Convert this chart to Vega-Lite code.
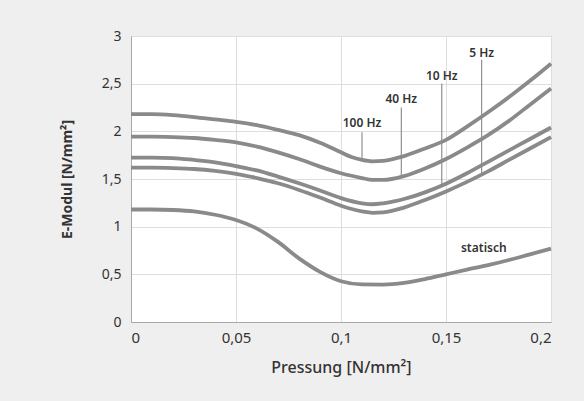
{
  "$schema": "https://vega.github.io/schema/vega-lite/v6.json",
  "width": 420,
  "height": 286,
  "autosize": {"type": "none"},
  "padding": {"left": 131, "top": 36, "right": 33, "bottom": 79},
  "background": "#efefef",
  "config": {
    "view": {"fill": "white", "stroke": "#b5b5b5", "strokeWidth": 1},
    "font": "Noto Sans",
    "axis": {
      "grid": true,
      "gridColor": "#dedede",
      "gridWidth": 1,
      "domainColor": "#a8a8a8",
      "ticks": false,
      "labelColor": "#333333",
      "titleColor": "#333333",
      "labelFont": "Noto Sans",
      "titleFont": "Noto Sans"
    }
  },
  "datasets": {
    "curves": [
      {"series": "100 Hz", "p": 0, "e": 2.18},
      {"series": "100 Hz", "p": 0.01, "e": 2.18},
      {"series": "100 Hz", "p": 0.02, "e": 2.17},
      {"series": "100 Hz", "p": 0.03, "e": 2.15},
      {"series": "100 Hz", "p": 0.04, "e": 2.125},
      {"series": "100 Hz", "p": 0.05, "e": 2.1},
      {"series": "100 Hz", "p": 0.06, "e": 2.065},
      {"series": "100 Hz", "p": 0.07, "e": 2.015},
      {"series": "100 Hz", "p": 0.08, "e": 1.96},
      {"series": "100 Hz", "p": 0.09, "e": 1.88},
      {"series": "100 Hz", "p": 0.1, "e": 1.78},
      {"series": "100 Hz", "p": 0.105, "e": 1.73},
      {"series": "100 Hz", "p": 0.11, "e": 1.7},
      {"series": "100 Hz", "p": 0.115, "e": 1.685},
      {"series": "100 Hz", "p": 0.12, "e": 1.69},
      {"series": "100 Hz", "p": 0.13, "e": 1.74},
      {"series": "100 Hz", "p": 0.14, "e": 1.82},
      {"series": "100 Hz", "p": 0.15, "e": 1.91},
      {"series": "100 Hz", "p": 0.16, "e": 2.05},
      {"series": "100 Hz", "p": 0.17, "e": 2.2},
      {"series": "100 Hz", "p": 0.18, "e": 2.36},
      {"series": "100 Hz", "p": 0.19, "e": 2.53},
      {"series": "100 Hz", "p": 0.2, "e": 2.71},
      {"series": "40 Hz", "p": 0, "e": 1.945},
      {"series": "40 Hz", "p": 0.01, "e": 1.945},
      {"series": "40 Hz", "p": 0.02, "e": 1.94},
      {"series": "40 Hz", "p": 0.03, "e": 1.93},
      {"series": "40 Hz", "p": 0.04, "e": 1.91},
      {"series": "40 Hz", "p": 0.05, "e": 1.885},
      {"series": "40 Hz", "p": 0.06, "e": 1.84},
      {"series": "40 Hz", "p": 0.07, "e": 1.78},
      {"series": "40 Hz", "p": 0.08, "e": 1.71},
      {"series": "40 Hz", "p": 0.09, "e": 1.63},
      {"series": "40 Hz", "p": 0.1, "e": 1.56},
      {"series": "40 Hz", "p": 0.11, "e": 1.51},
      {"series": "40 Hz", "p": 0.115, "e": 1.49},
      {"series": "40 Hz", "p": 0.12, "e": 1.49},
      {"series": "40 Hz", "p": 0.13, "e": 1.53},
      {"series": "40 Hz", "p": 0.14, "e": 1.61},
      {"series": "40 Hz", "p": 0.15, "e": 1.71},
      {"series": "40 Hz", "p": 0.16, "e": 1.83},
      {"series": "40 Hz", "p": 0.17, "e": 1.96},
      {"series": "40 Hz", "p": 0.18, "e": 2.11},
      {"series": "40 Hz", "p": 0.19, "e": 2.28},
      {"series": "40 Hz", "p": 0.2, "e": 2.45},
      {"series": "10 Hz", "p": 0, "e": 1.725},
      {"series": "10 Hz", "p": 0.01, "e": 1.725},
      {"series": "10 Hz", "p": 0.02, "e": 1.72},
      {"series": "10 Hz", "p": 0.03, "e": 1.7},
      {"series": "10 Hz", "p": 0.04, "e": 1.675},
      {"series": "10 Hz", "p": 0.05, "e": 1.635},
      {"series": "10 Hz", "p": 0.06, "e": 1.59},
      {"series": "10 Hz", "p": 0.07, "e": 1.525},
      {"series": "10 Hz", "p": 0.08, "e": 1.455},
      {"series": "10 Hz", "p": 0.09, "e": 1.38},
      {"series": "10 Hz", "p": 0.1, "e": 1.3},
      {"series": "10 Hz", "p": 0.11, "e": 1.245},
      {"series": "10 Hz", "p": 0.115, "e": 1.235},
      {"series": "10 Hz", "p": 0.12, "e": 1.245},
      {"series": "10 Hz", "p": 0.13, "e": 1.29},
      {"series": "10 Hz", "p": 0.14, "e": 1.36},
      {"series": "10 Hz", "p": 0.15, "e": 1.45},
      {"series": "10 Hz", "p": 0.16, "e": 1.56},
      {"series": "10 Hz", "p": 0.17, "e": 1.68},
      {"series": "10 Hz", "p": 0.18, "e": 1.8},
      {"series": "10 Hz", "p": 0.19, "e": 1.92},
      {"series": "10 Hz", "p": 0.2, "e": 2.04},
      {"series": "5 Hz", "p": 0, "e": 1.62},
      {"series": "5 Hz", "p": 0.01, "e": 1.62},
      {"series": "5 Hz", "p": 0.02, "e": 1.615},
      {"series": "5 Hz", "p": 0.03, "e": 1.605},
      {"series": "5 Hz", "p": 0.04, "e": 1.585},
      {"series": "5 Hz", "p": 0.05, "e": 1.555},
      {"series": "5 Hz", "p": 0.06, "e": 1.51},
      {"series": "5 Hz", "p": 0.07, "e": 1.455},
      {"series": "5 Hz", "p": 0.08, "e": 1.385},
      {"series": "5 Hz", "p": 0.09, "e": 1.305},
      {"series": "5 Hz", "p": 0.1, "e": 1.22},
      {"series": "5 Hz", "p": 0.11, "e": 1.16},
      {"series": "5 Hz", "p": 0.115, "e": 1.145},
      {"series": "5 Hz", "p": 0.12, "e": 1.15},
      {"series": "5 Hz", "p": 0.13, "e": 1.2},
      {"series": "5 Hz", "p": 0.14, "e": 1.28},
      {"series": "5 Hz", "p": 0.15, "e": 1.37},
      {"series": "5 Hz", "p": 0.16, "e": 1.47},
      {"series": "5 Hz", "p": 0.17, "e": 1.58},
      {"series": "5 Hz", "p": 0.18, "e": 1.7},
      {"series": "5 Hz", "p": 0.19, "e": 1.82},
      {"series": "5 Hz", "p": 0.2, "e": 1.94},
      {"series": "statisch", "p": 0, "e": 1.18},
      {"series": "statisch", "p": 0.01, "e": 1.18},
      {"series": "statisch", "p": 0.02, "e": 1.175},
      {"series": "statisch", "p": 0.03, "e": 1.16},
      {"series": "statisch", "p": 0.04, "e": 1.125},
      {"series": "statisch", "p": 0.05, "e": 1.07},
      {"series": "statisch", "p": 0.06, "e": 0.98},
      {"series": "statisch", "p": 0.07, "e": 0.84},
      {"series": "statisch", "p": 0.08, "e": 0.667},
      {"series": "statisch", "p": 0.09, "e": 0.526},
      {"series": "statisch", "p": 0.1, "e": 0.428},
      {"series": "statisch", "p": 0.11, "e": 0.395},
      {"series": "statisch", "p": 0.12, "e": 0.393},
      {"series": "statisch", "p": 0.13, "e": 0.41},
      {"series": "statisch", "p": 0.14, "e": 0.45},
      {"series": "statisch", "p": 0.15, "e": 0.5},
      {"series": "statisch", "p": 0.16, "e": 0.55},
      {"series": "statisch", "p": 0.17, "e": 0.596},
      {"series": "statisch", "p": 0.18, "e": 0.65},
      {"series": "statisch", "p": 0.19, "e": 0.71},
      {"series": "statisch", "p": 0.2, "e": 0.77}
    ],
    "labels": [
      {"label": "100 Hz", "p": 0.11, "e": 2.09, "top": 1.99, "bottom": 1.7, "leader": true},
      {"label": "40 Hz", "p": 0.1287, "e": 2.34, "top": 2.25, "bottom": 1.53, "leader": true},
      {"label": "10 Hz", "p": 0.148, "e": 2.58, "top": 2.5, "bottom": 1.44, "leader": true},
      {"label": "5 Hz", "p": 0.167, "e": 2.82, "top": 2.75, "bottom": 1.55, "leader": true},
      {"label": "statisch", "p": 0.168, "e": 0.78, "top": null, "bottom": null, "leader": false}
    ]
  },
  "layer": [
    {
      "data": {"name": "labels"},
      "transform": [{"filter": "datum.leader"}],
      "mark": {"type": "rule", "color": "#7a7a7a", "strokeWidth": 1},
      "encoding": {
        "x": {"field": "p", "type": "quantitative"},
        "y": {"field": "top", "type": "quantitative"},
        "y2": {"field": "bottom"}
      }
    },
    {
      "data": {"name": "curves"},
      "mark": {"type": "line", "color": "#8a8a8a", "strokeWidth": 3.8, "interpolate": "monotone"},
      "encoding": {
        "x": {
          "field": "p",
          "type": "quantitative",
          "scale": {"domain": [0, 0.2], "nice": false},
          "axis": {
            "values": [0, 0.05, 0.1, 0.15, 0.2],
            "labelExpr": "replace(format(datum.value, '~g'), '.', ',')",
            "labelFontSize": 15,
            "labelPadding": 8,
            "title": "Pressung [N/mm²]",
            "titleFontSize": 16,
            "titleFontWeight": 500,
            "titlePadding": 14
          }
        },
        "y": {
          "field": "e",
          "type": "quantitative",
          "scale": {"domain": [0, 3], "nice": false},
          "axis": {
            "values": [0, 0.5, 1, 1.5, 2, 2.5, 3],
            "labelExpr": "replace(format(datum.value, '~g'), '.', ',')",
            "labelFontSize": 14,
            "labelPadding": 10,
            "title": "E-Modul [N/mm²]",
            "titleFontSize": 14,
            "titleFontWeight": "bold",
            "titleX": -64,
            "titleY": 143,
            "titleAngle": -90,
            "titleAlign": "center",
            "titleBaseline": "middle"
          }
        },
        "detail": {"field": "series"}
      }
    },
    {
      "data": {"name": "labels"},
      "mark": {"type": "text", "fontSize": 12, "fontWeight": 600, "color": "#333333", "align": "center", "baseline": "middle"},
      "encoding": {
        "x": {"field": "p", "type": "quantitative"},
        "y": {"field": "e", "type": "quantitative"},
        "text": {"field": "label"}
      }
    }
  ]
}
